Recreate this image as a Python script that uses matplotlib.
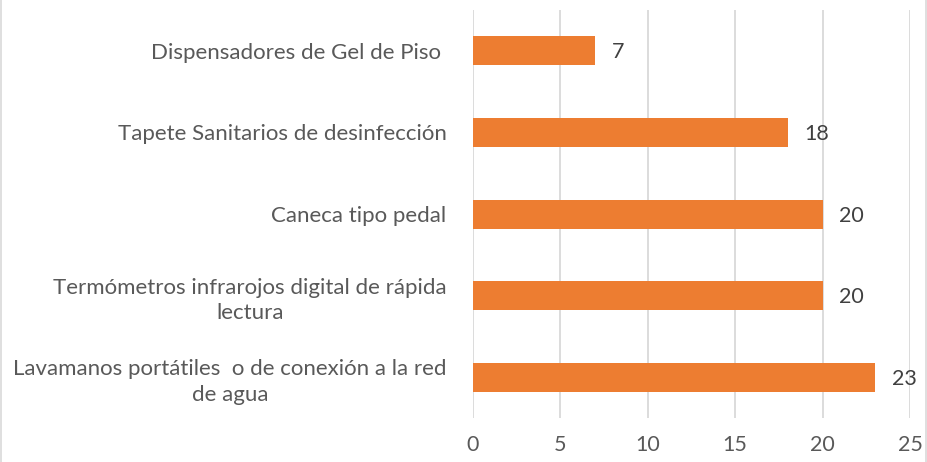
import matplotlib.pyplot as plt
import numpy as np

# categories from top to bottom
categories = [
    "Dispensadores de Gel de Piso ",
    "Tapete Sanitarios de desinfección",
    "Caneca tipo pedal",
    "Termómetros infrarojos digital de rápida\nlectura",
    "Lavamanos portátiles  o de conexión a la red\nde agua",
]
values = [7, 18, 20, 20, 23]
x_ticks = [0, 5, 10, 15, 20, 25]

bar_color = "#ED7D31"
grid_color = "#D9D9D9"
label_color = "#595959"

plt.rcParams['font.family'] = ['Lato', 'DejaVu Sans']

fig = plt.figure(figsize=(9.28, 4.62), dpi=100)
ax = fig.add_axes([0.5097, 0.0952, 0.4709, 0.8831])

y = np.arange(len(categories))
bars = ax.barh(y, values, height=0.355, color=bar_color, zorder=3)
ax.set_ylim(len(categories) - 0.5, -0.5)
ax.set_xlim(0, 25)

# value labels
for yi, v in zip(y, values):
    ax.text(v + 0.95, yi + 0.02, str(v), va="center", ha="left",
            fontsize=15.5, color="#404040")

ax.set_yticks(y)
ax.set_yticklabels(categories, linespacing=1.35)
for lab in ax.get_yticklabels():
    lab.set_multialignment("center")
ax.set_xticks(x_ticks)
ax.tick_params(axis="y", length=0, pad=19, labelsize=16, labelcolor=label_color)
ax.tick_params(axis="x", length=0, pad=12, labelsize=15.5, labelcolor=label_color)

ax.grid(axis="x", color=grid_color, linewidth=1.3, zorder=0)
for s in ax.spines.values():
    s.set_visible(False)

# light border around the chart area
fig.patches.append(plt.Rectangle((0.001, -0.01), 0.997, 1.02, transform=fig.transFigure,
                                 fill=False, edgecolor="#D9D9D9", linewidth=1.2))

fig.savefig("out.png", dpi=100, facecolor="white")
